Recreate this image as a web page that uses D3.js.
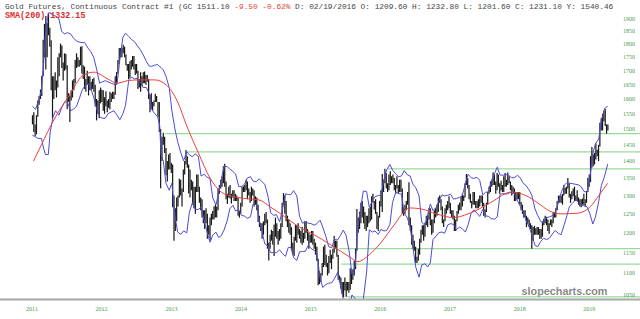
<!DOCTYPE html>
<meta charset="utf-8">
<style>
body {margin: 0; background: white;}
.price {stroke: #161616; stroke-width: 1.2px;}
.band {fill: none; stroke: #4b4bd6; stroke-width: 1px;}
.sma {fill: none; stroke: #e8413a; stroke-width: 1px;}
.level {stroke: #9ad99a; stroke-width: 1.2px;}
.axisline {stroke: #a8a8a8; stroke-width: 2px;}
.tick {fill: #4a9a4a; font-family: "Liberation Serif", serif; font-size: 6px;}
.title {font-family: "Liberation Mono", monospace; font-size: 7.8px; fill: #444;}
.dn {fill: #e8413a;}
.smalabel {font-family: "Liberation Mono", monospace; font-size: 8.4px; font-weight: bold; fill: #e02a2a;}
.mark {font-family: "Liberation Sans", sans-serif; font-size: 11.5px; font-weight: bold; fill: #8a8a8a;}
</style>
<body>
<script src="https://d3js.org/d3.v7.min.js"></script>
<script>
var width = 640, height = 319

// weekly bars, first week ending 2011-06-17
var firstWeek = "2011-06-15"
var weekLow = [
1515,1490,1478,1483,1540,1580,1600,1610,1680,1750,1705,1750,1835,1790,1630,1535,1600,1630,1605,1640,1680,1750,1710,1665,1700,1705,1565,1590,1523,
1595,1605,1630,1655,1710,1715,1715,1720,1690,1670,1635,1625,1650,1612,1630,1630,1635,1625,1575,1528,1550,1535,1585,1590,1560,1550,1575,1555,1570,1565,1590,1600,1600,1615,1650,1690,1725,1750,1750,1765,1750,1720,1700,1670,1675,1705,1715,1705,1685,1690,1635,1640,
1625,1645,1655,1655,1650,1660,1600,1555,1565,1562,1575,1590,1590,1540,1490,1321,1400,1450,1425,1358,1340,1375,1375,1365,1268,1180,1205,1230,1270,1295,1300,1270,1310,1360,1390,1380,1306,1295,1315,1275,1265,1250,1310,1310,1280,1260,1240,1225,1210,1225,1185,1195,
1182,1220,1235,1235,1240,1240,1260,1305,1320,1325,1335,1325,1290,1277,1295,1292,1278,1295,1285,1285,1285,1245,1240,1250,1270,1310,1310,1315,1290,1300,1280,1285,1300,1270,1275,1260,1228,1215,1205,1185,1195,1220,1225,1160,1131,1160,1180,1170,1142,1190,1185,1170,
1180,1185,1215,1275,1250,1230,1215,1200,1195,1160,1145,1142,1180,1175,1195,1185,1175,1170,1175,1185,1200,1180,1160,1175,1175,1170,1160,1145,1130,1072,1075,1080,1095,1115,1120,1115,1095,1100,1125,1110,1135,1150,1160,1140,1085,1080,1064,1052,1045,1060,1046,1060,
1055,1062,1075,1085,1095,1110,1155,1200,1210,1225,1240,1225,1210,1205,1215,1225,1230,1235,1280,1262,1250,1210,1205,1240,1270,1255,1310,1335,1320,1310,1315,1330,1335,1335,1315,1305,1320,1305,1310,1310,1250,1245,1250,1260,1275,1220,1205,1170,1160,1155,1125,1125,1130,
1145,1175,1195,1180,1190,1220,1215,1235,1220,1195,1200,1225,1240,1245,1255,1280,1260,1225,1215,1230,1250,1260,1265,1250,1240,1235,1205,1205,1230,1250,1260,1260,1270,1285,1295,1330,1320,1290,1280,1265,1275,1275,1265,1265,1265,1270,1280,1270,1245,1240,1255,1275,
1305,1310,1325,1330,1330,1305,1315,1325,1305,1315,1310,1310,1325,1325,1330,1335,1315,1300,1305,1285,1285,1290,1290,1275,1260,1250,1240,1240,1215,1225,1215,1210,1160,1180,1195,1195,1195,1195,1185,1185,1190,1220,1225,1220,1205,1198,1220,1215,1225,1240,1240,1260,
1280,1280,1280,1275,1300,1305,1305,1320,1295,1280,1290,1298,1285,1285,1285,1275,1270,1268,1275,1275,1270,1280,1310,1325,1338,1380,1385,1390,1405,1415,1400,1445,1495,1495,1525,1510,1485,1495]
var weekHigh = [
1545,1555,1515,1545,1595,1610,1633,1682,1817,1880,1912,1885,1923,1865,1815,1680,1680,1695,1665,1750,1765,1802,1795,1730,1765,1762,1720,1620,1612,
1630,1665,1670,1740,1765,1750,1740,1790,1792,1720,1715,1670,1700,1680,1680,1660,1670,1675,1650,1600,1595,1630,1640,1632,1630,1606,1627,1595,1600,1625,1620,1625,1625,1680,1695,1740,1785,1785,1785,1798,1790,1760,1725,1725,1735,1740,1755,1755,1725,1725,1700,1670,
1695,1680,1695,1697,1685,1685,1670,1615,1620,1590,1595,1618,1610,1590,1590,1500,1475,1488,1475,1440,1400,1420,1425,1395,1390,1300,1265,1295,1300,1348,1345,1320,1375,1400,1434,1415,1390,1375,1345,1340,1325,1325,1360,1360,1325,1295,1290,1260,1260,1265,1250,1220,
1240,1250,1258,1270,1275,1270,1320,1330,1345,1355,1385,1392,1340,1305,1325,1330,1305,1315,1315,1305,1300,1295,1258,1280,1325,1326,1330,1345,1340,1320,1310,1325,1320,1315,1298,1295,1275,1245,1225,1225,1230,1250,1255,1235,1175,1195,1208,1205,1222,1240,1225,1205,
1210,1225,1280,1307,1300,1285,1245,1235,1225,1215,1175,1190,1220,1220,1225,1210,1205,1215,1200,1230,1230,1210,1200,1195,1205,1205,1185,1175,1165,1135,1105,1100,1125,1165,1170,1145,1125,1142,1157,1145,1160,1192,1180,1180,1145,1095,1090,1080,1080,1090,1080,1080,
1080,1112,1105,1110,1130,1160,1263,1240,1255,1280,1285,1270,1255,1245,1245,1265,1270,1298,1305,1285,1290,1255,1245,1285,1315,1362,1345,1377,1365,1335,1360,1370,1355,1360,1350,1330,1355,1330,1345,1345,1320,1265,1275,1285,1310,1338,1240,1220,1195,1180,1165,1140,1160,
1185,1208,1220,1220,1227,1245,1245,1265,1265,1235,1235,1260,1265,1275,1295,1300,1290,1270,1235,1265,1275,1285,1298,1280,1260,1260,1245,1235,1258,1275,1280,1297,1305,1300,1335,1362,1350,1330,1305,1285,1310,1310,1285,1285,1290,1300,1300,1300,1280,1262,1280,1310,
1326,1340,1345,1366,1360,1340,1365,1360,1335,1342,1330,1355,1365,1345,1366,1355,1340,1330,1325,1320,1310,1310,1310,1310,1282,1275,1260,1260,1245,1240,1235,1225,1220,1215,1218,1212,1215,1215,1210,1210,1230,1237,1245,1242,1235,1225,1235,1235,1255,1255,1265,1285,
1300,1300,1300,1305,1330,1322,1325,1350,1335,1305,1312,1320,1325,1300,1315,1295,1290,1290,1292,1305,1290,1313,1350,1360,1415,1443,1420,1425,1455,1435,1450,1520,1535,1550,1560,1566,1515,1515]

// envelope
var bandDates = ["2011-06-15","2011-07-01","2011-07-15","2011-08-01","2011-08-12","2011-08-22","2011-09-06","2011-09-16","2011-10-01","2011-10-14","2011-11-01","2011-11-15","2011-12-01","2011-12-15",
"2012-01-01","2012-01-15","2012-02-01","2012-02-15","2012-03-01","2012-03-15","2012-04-01","2012-04-15","2012-05-01","2012-05-15","2012-06-01","2012-06-15","2012-07-01","2012-07-15","2012-08-01","2012-08-15","2012-09-01","2012-09-15","2012-10-01","2012-10-15","2012-11-01","2012-11-15","2012-12-01","2012-12-15",
"2013-01-01","2013-01-15","2013-02-01","2013-02-15","2013-03-01","2013-03-15","2013-04-01","2013-04-12","2013-04-19","2013-05-01","2013-05-15","2013-06-01","2013-06-15","2013-07-01","2013-07-15","2013-08-01","2013-08-15","2013-09-01","2013-09-15","2013-10-01","2013-10-15","2013-11-01","2013-11-15","2013-12-01","2013-12-15",
"2014-01-01","2014-01-15","2014-02-01","2014-02-15","2014-03-01","2014-03-15","2014-04-01","2014-04-15","2014-05-01","2014-05-15","2014-06-01","2014-06-15","2014-07-01","2014-07-15","2014-08-01","2014-08-15","2014-09-01","2014-09-15","2014-10-01","2014-10-15","2014-11-01","2014-11-15","2014-12-01","2014-12-15",
"2015-01-01","2015-01-15","2015-02-01","2015-02-15","2015-03-01","2015-03-15","2015-04-01","2015-04-15","2015-05-01","2015-05-15","2015-06-01","2015-06-15","2015-07-01","2015-07-15","2015-08-01","2015-08-15","2015-09-01","2015-09-15","2015-10-01","2015-10-15","2015-11-01","2015-11-15","2015-12-01","2015-12-15",
"2016-01-01","2016-01-15","2016-02-01","2016-02-15","2016-03-01","2016-03-15","2016-04-01","2016-04-15","2016-05-01","2016-05-15","2016-06-01","2016-06-15","2016-07-01","2016-07-15","2016-08-01","2016-08-15","2016-09-01","2016-09-15","2016-10-01","2016-10-15","2016-11-01","2016-11-15","2016-12-01","2016-12-15",
"2017-01-01","2017-01-15","2017-02-01","2017-02-15","2017-03-01","2017-03-15","2017-04-01","2017-04-15","2017-05-01","2017-05-15","2017-06-01","2017-06-15","2017-07-01","2017-07-15","2017-08-01","2017-08-15","2017-09-01","2017-09-15","2017-10-01","2017-10-15","2017-11-01","2017-11-15","2017-12-01","2017-12-15",
"2018-01-01","2018-01-15","2018-02-01","2018-02-15","2018-03-01","2018-03-15","2018-04-01","2018-04-15","2018-05-01","2018-05-15","2018-06-01","2018-06-15","2018-07-01","2018-07-15","2018-08-01","2018-08-15","2018-09-01","2018-09-15","2018-10-01","2018-10-15","2018-11-01","2018-11-15","2018-12-01","2018-12-15",
"2019-01-01","2019-01-15","2019-02-01","2019-02-15","2019-03-01","2019-03-15","2019-04-01","2019-04-15","2019-05-01","2019-05-15","2019-06-01","2019-06-15","2019-07-01","2019-07-15","2019-08-01","2019-08-15","2019-09-01","2019-09-17"]
var bandUpper = [1575,1565,1590,1630,1720,1840,1925,1925,1915,1912,1900,1850,1840,1845,
1840,1825,1812,1808,1806,1806,1785,1772,1750,1710,1655,1660,1664,1660,1655,1651,1655,1740,1827,1843,1830,1818,1810,1795,
1778,1760,1735,1718,1716,1720,1723,1715,1712,1703,1680,1640,1560,1500,1460,1425,1401,1428,1419,1413,1422,1414,1356,1361,1353,
1348,1294,1274,1308,1345,1383,1384,1376,1369,1362,1325,1326,1332,1350,1354,1341,1339,1348,1339,1332,1298,1253,1246,1248,
1229,1260,1305,1303,1303,1314,1299,1244,1225,1229,1225,1224,1220,1224,1233,1215,1190,1165,1162,1183,1182,1193,1207,1194,
1152,1098,1118,1212,1269,1313,1311,1268,1286,1297,1300,1301,1345,1374,1390,1373,1362,1354,1356,1372,1359,1356,1331,1322,
1299,1228,1219,1247,1277,1259,1268,1285,1302,1299,1301,1304,1290,1292,1295,1299,1334,1361,1351,1349,1352,1343,1302,1309,
1311,1341,1364,1382,1359,1358,1360,1358,1351,1351,1358,1351,1335,1329,1316,1301,1263,1246,1230,1226,1240,1242,1245,1254,
1279,1307,1329,1337,1335,1334,1332,1331,1325,1312,1309,1347,1423,1454,1468,1529,1568,1575]
var bandLower = [1480,1475,1470,1470,1440,1420,1420,1490,1540,1560,1545,1570,1590,1590,
1560,1565,1575,1600,1630,1645,1655,1640,1605,1570,1540,1535,1535,1550,1556,1560,1545,1530,1550,1578,1667,1677,1671,1672,
1660,1640,1640,1620,1565,1552,1540,1512,1420,1400,1335,1315,1335,1245,1202,1196,1205,1200,1255,1281,1262,1262,1268,1233,1205,
1176,1194,1202,1188,1193,1207,1232,1264,1273,1258,1261,1246,1244,1238,1242,1277,1275,1236,1203,1172,1166,1150,1150,1150,
1157,1148,1141,1163,1163,1138,1131,1152,1153,1153,1169,1160,1156,1148,1089,1067,1074,1077,1078,1087,1102,1073,1039,1022,
1024,1050,1042,1004,1009,1041,1103,1208,1202,1205,1196,1209,1205,1206,1222,1281,1310,1306,1304,1252,1239,1216,1159,1114,
1091,1120,1123,1115,1125,1183,1192,1201,1202,1199,1221,1224,1222,1208,1215,1211,1202,1221,1251,1261,1252,1243,1262,1245,
1243,1237,1236,1242,1303,1306,1304,1306,1311,1307,1286,1271,1255,1233,1216,1195,1168,1165,1178,1186,1183,1186,1197,1206,
1199,1195,1221,1245,1271,1278,1288,1283,1273,1272,1269,1251,1223,1242,1284,1329,1356,1391]

// 200-day moving average (red)
var smaDates = ["2011-06-20","2011-08-01","2011-10-01","2012-01-01","2012-03-01","2012-05-01","2012-07-15","2012-09-01","2012-11-01","2013-01-01","2013-03-15","2013-05-15","2013-07-15","2013-09-01","2013-11-01",
"2014-01-01","2014-03-01","2014-05-01","2014-07-01","2014-09-15","2014-11-15","2015-01-01","2015-04-15","2015-07-01","2015-10-01","2016-01-01","2016-02-15","2016-04-15","2016-06-15","2016-08-15","2016-11-15",
"2017-01-15","2017-04-01","2017-07-01","2017-09-15","2017-11-15","2018-01-15","2018-05-01","2018-07-15","2018-09-15","2018-11-15","2019-01-15","2019-04-15","2019-06-15","2019-08-01","2019-09-17"]
var smaValues = [1400,1450,1525,1620,1680,1695,1670,1655,1665,1667,1667,1650,1590,1510,1425,
1350,1310,1298,1292,1288,1268,1252,1215,1195,1168,1140,1128,1145,1175,1215,1266,
1263,1250,1240,1250,1264,1282,1310,1300,1280,1258,1250,1252,1268,1300,1335]

// horizontal support / resistance lines and where they start
var levelValues = [1485, 1428, 1377, 1160, 1122, 1046]
var levelStarts = ["2013-05-10", "2013-09-02", "2016-07-22", "2015-11-10", "2015-11-20", "2015-12-20"]

var priceTicks = [1050,1100,1150,1200,1250,1300,1350,1400,1450,1500,1550,1600,1650,1700,1750,1800,1850,1900]
var yearTicks = [2011,2012,2013,2014,2015,2016,2017,2018,2019]

var parse = d3.timeParse("%Y-%m-%d")
var x = d3.scaleTime()
  .domain([new Date(2011, 0, 1), new Date(2019, 0, 1)])
  .range([1, 558.3])
var y = d3.scaleLog().domain([1050, 1900]).range([295, 19])
var plotBottom = 299

var svg = d3.select("body").append("svg")
  .attr("width", width).attr("height", height)

svg.append("clipPath").attr("id", "plot")
  .append("rect").attr("x", 0).attr("y", 0).attr("width", width).attr("height", plotBottom)

var plot = svg.append("g").attr("clip-path", "url(#plot)")

plot.selectAll(".level")
  .data(levelValues).enter().append("line")
  .attr("class", "level")
  .attr("x1", function(d, i) { return x(parse(levelStarts[i])) })
  .attr("x2", width)
  .attr("y1", function(d) { return y(d) })
  .attr("y2", function(d) { return y(d) })

var week0 = parse(firstWeek)
plot.selectAll(".price")
  .data(weekLow).enter().append("line")
  .attr("class", "price")
  .attr("x1", function(d, i) { return x(d3.timeDay.offset(week0, 7 * i)) })
  .attr("x2", function(d, i) { return x(d3.timeDay.offset(week0, 7 * i)) })
  .attr("y1", function(d) { return y(d) })
  .attr("y2", function(d, i) { return y(weekHigh[i]) })

var bandLine = d3.line()
  .x(function(d) { return x(parse(d[0])) })
  .y(function(d) { return y(d[1]) })

plot.append("path")
  .datum(d3.zip(bandDates, bandUpper)).attr("class", "band").attr("d", bandLine)
plot.append("path")
  .datum(d3.zip(bandDates, bandLower)).attr("class", "band").attr("d", bandLine)

plot.append("path")
  .datum(d3.zip(smaDates, smaValues)).attr("class", "sma")
  .attr("d", bandLine.curve(d3.curveMonotoneX))

svg.append("line").attr("class", "axisline")
  .attr("x1", 0).attr("x2", width).attr("y1", plotBottom + 0.5).attr("y2", plotBottom + 0.5)

svg.selectAll(".ytick")
  .data(priceTicks).enter().append("text")
  .attr("class", "tick")
  .attr("x", 629).attr("y", function(d) { return y(d) + 2 })
  .attr("text-anchor", "middle")
  .text(function(d) { return d })

svg.selectAll(".xtick")
  .data(yearTicks).enter().append("text")
  .attr("class", "tick")
  .attr("x", function(d) { return x(new Date(d, 0, 1)) + 31 })
  .attr("y", 311)
  .attr("text-anchor", "middle")
  .text(function(d) { return d })

svg.append("text").attr("class", "mark")
  .attr("x", 521.5).attr("y", 295)
  .attr("textLength", 86).attr("lengthAdjust", "spacingAndGlyphs")
  .text("slopecharts.com")

var title = svg.append("text").attr("class", "title").attr("x", 5).attr("y", 8.5)
title.append("tspan").text("Gold Futures, Continuous Contract #1 (GC 1511.10 ")
title.append("tspan").attr("class", "dn").text("-9.50 -0.62%")
title.append("tspan").text(" D: 02/19/2016 O: 1209.60 H: 1232.80 L: 1201.60 C: 1231.10 Y: 1540.46")

svg.append("text").attr("class", "smalabel").attr("x", 5).attr("y", 18)
  .text("SMA(200) 1332.15")
</script>
